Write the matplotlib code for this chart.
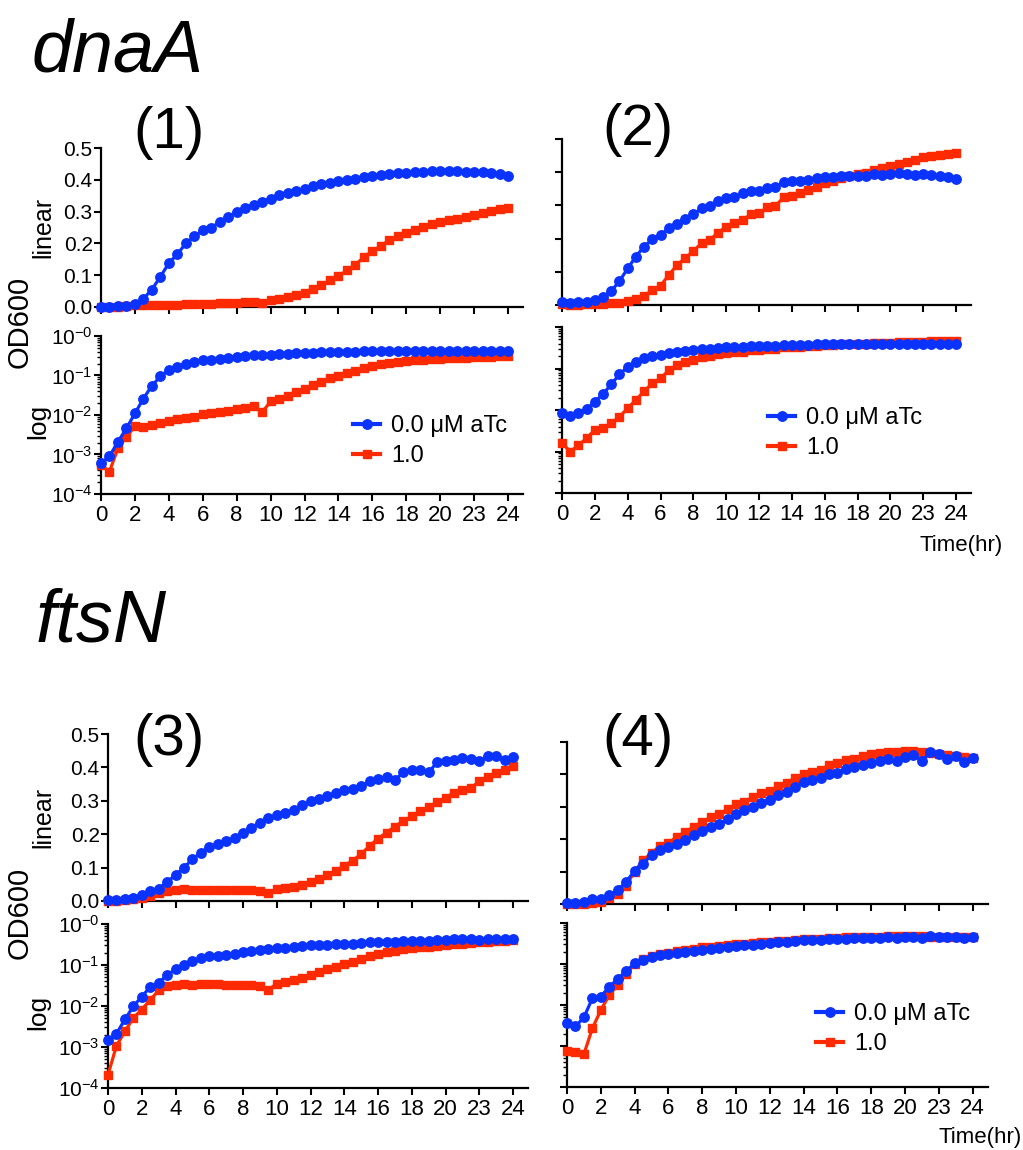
"""dnaA / ftsN growth curves — OD600 on linear and log axes, 4 panels, 0 vs 1.0 uM aTc.

Each panel is a pair of stacked axes (linear on top, log below) sharing the
same time grid (0-24 h, every 30 min). Geometry is given in pixels of the
1023x1150 target and converted to figure fractions.
"""

import matplotlib

matplotlib.use("Agg")
import matplotlib.pyplot as plt
import numpy as np
from matplotlib.lines import Line2D
from matplotlib.ticker import FixedLocator, FuncFormatter, LogLocator, NullFormatter

W, H, DPI = 1023, 1150, 100
BLUE = "#0a33ff"
RED = "#ff2a00"
FONT = ["Liberation Sans", "DejaVu Sans"]

# --- data --------------------------------------------------------------------

TIME_HR = [0.0, 0.5, 1.0, 1.5, 2.0, 2.5, 3.0, 3.5, 4.0, 4.5, 5.0, 5.5, 6.0, 6.5,
           7.0, 7.5, 8.0, 8.5, 9.0, 9.5, 10.0, 10.5, 11.0, 11.5, 12.0, 12.5,
           13.0, 13.5, 14.0, 14.5, 15.0, 15.5, 16.0, 16.5, 17.0, 17.5, 18.0,
           18.5, 19.0, 19.5, 20.0, 20.5, 21.0, 21.5, 22.0, 22.5, 23.0, 23.5, 24.0]
XTICKS = [0, 2, 4, 6, 8, 10, 12, 14, 16, 18, 20, 22, 24]
XTICK_LABELS = ["0", "2", "4", "6", "8", "10", "12", "14", "16", "18", "20", "23", "24"]
LIN_YTICKS = [0.0, 0.1, 0.2, 0.3, 0.4, 0.5]
LIN_YTICK_LABELS = ["0.0", "0.1", "0.2", "0.3", "0.4", "0.5"]
LOG_YTICKS = [1e-4, 1e-3, 1e-2, 1e-1, 1.0]
LEGEND_LABELS = ["0.0 \u03bcM aTc", "1.0"]
GENES = ["dnaA", "ftsN"]
PANEL_LABELS = ["(1)", "(2)", "(3)", "(4)"]

# (1) dnaA
P1_ATC0 = [6e-4, 9e-4, 2.1e-3, 4.6e-3, 0.011, 0.026, 0.055, 0.095, 0.138, 0.166,
           0.200, 0.222, 0.241, 0.250, 0.267, 0.283, 0.299, 0.312, 0.322, 0.330,
           0.340, 0.351, 0.358, 0.365, 0.372, 0.379, 0.386, 0.391, 0.396, 0.400,
           0.404, 0.408, 0.412, 0.415, 0.418, 0.420, 0.422, 0.423, 0.424, 0.427,
           0.428, 0.427, 0.427, 0.425, 0.425, 0.424, 0.422, 0.417, 0.411]
P1_ATC1 = [5.5e-4, 3.7e-4, 1.45e-3, 2.8e-3, 5.2e-3, 5.0e-3, 5.6e-3, 6.4e-3, 7.2e-3,
           7.8e-3, 8.6e-3, 9.1e-3, 0.0104, 0.0110, 0.0117, 0.0126, 0.0139, 0.0153,
           0.0170, 0.0117, 0.022, 0.025, 0.031, 0.039, 0.045, 0.058, 0.070, 0.084,
           0.097, 0.115, 0.133, 0.157, 0.176, 0.192, 0.210, 0.222, 0.234, 0.243,
           0.252, 0.260, 0.267, 0.273, 0.278, 0.283, 0.290, 0.297, 0.302, 0.307, 0.311]
# (2) dnaA
P2_ATC0 = [8.3e-3, 7.2e-3, 8.6e-3, 0.0104, 0.016, 0.024, 0.042, 0.072, 0.110, 0.146,
           0.176, 0.198, 0.211, 0.231, 0.244, 0.259, 0.273, 0.291, 0.298, 0.314,
           0.323, 0.326, 0.336, 0.344, 0.344, 0.353, 0.356, 0.370, 0.373, 0.375,
           0.377, 0.384, 0.387, 0.387, 0.389, 0.389, 0.389, 0.390, 0.395, 0.392,
           0.395, 0.397, 0.395, 0.393, 0.395, 0.392, 0.389, 0.385, 0.379]
P2_ATC1 = [1.6e-3, 1.0e-3, 1.4e-3, 2.1e-3, 3.3e-3, 3.6e-3, 4.8e-3, 6.9e-3, 0.011,
           0.0175, 0.028, 0.044, 0.058, 0.090, 0.120, 0.141, 0.163, 0.186, 0.196,
           0.218, 0.236, 0.246, 0.256, 0.273, 0.276, 0.294, 0.299, 0.324, 0.329,
           0.336, 0.346, 0.356, 0.366, 0.375, 0.382, 0.389, 0.395, 0.399, 0.407,
           0.412, 0.419, 0.425, 0.430, 0.437, 0.445, 0.449, 0.452, 0.454, 0.457]
# (3) ftsN
P3_ATC0 = [1.5e-3, 2.1e-3, 4.7e-3, 9.8e-3, 0.017, 0.029, 0.037, 0.057, 0.078, 0.100,
           0.125, 0.145, 0.162, 0.170, 0.180, 0.190, 0.205, 0.220, 0.235, 0.248,
           0.256, 0.264, 0.271, 0.286, 0.299, 0.306, 0.314, 0.324, 0.332, 0.334,
           0.344, 0.358, 0.365, 0.371, 0.363, 0.385, 0.393, 0.393, 0.385, 0.416,
           0.418, 0.423, 0.428, 0.425, 0.418, 0.433, 0.435, 0.423, 0.431]
P3_ATC1 = [2.1e-4, 1.07e-3, 2.4e-3, 5.1e-3, 8.2e-3, 0.014, 0.024, 0.031, 0.033,
           0.035, 0.033, 0.034, 0.034, 0.034, 0.033, 0.032, 0.032, 0.032, 0.031,
           0.025, 0.035, 0.039, 0.042, 0.049, 0.058, 0.066, 0.078, 0.091, 0.106,
           0.121, 0.141, 0.165, 0.187, 0.205, 0.223, 0.240, 0.254, 0.269, 0.282,
           0.296, 0.309, 0.324, 0.332, 0.339, 0.358, 0.371, 0.383, 0.393, 0.403]
# (4) ftsN
P4_ATC0 = [3.6e-3, 3.0e-3, 5.0e-3, 0.0145, 0.016, 0.028, 0.043, 0.068, 0.103, 0.125,
           0.151, 0.168, 0.175, 0.185, 0.197, 0.212, 0.225, 0.238, 0.246, 0.261,
           0.279, 0.290, 0.298, 0.312, 0.322, 0.336, 0.346, 0.361, 0.377, 0.382,
           0.390, 0.400, 0.405, 0.418, 0.423, 0.428, 0.435, 0.441, 0.449, 0.440,
           0.454, 0.459, 0.441, 0.469, 0.462, 0.446, 0.456, 0.438, 0.451]
P4_ATC1 = [7.5e-4, 7.0e-4, 6.3e-4, 2.7e-3, 7.5e-3, 0.0175, 0.031, 0.057, 0.100,
           0.136, 0.156, 0.180, 0.189, 0.207, 0.223, 0.238, 0.254, 0.267, 0.279,
           0.292, 0.308, 0.315, 0.331, 0.343, 0.348, 0.363, 0.374, 0.390, 0.402,
           0.408, 0.415, 0.428, 0.435, 0.443, 0.449, 0.457, 0.462, 0.466, 0.469,
           0.469, 0.472, 0.472, 0.469, 0.466, 0.463, 0.459, 0.456, 0.454, 0.451]

SERIES = [(P1_ATC0, P1_ATC1), (P2_ATC0, P2_ATC1), (P3_ATC0, P3_ATC1), (P4_ATC0, P4_ATC1)]

# --- layout (pixels of the target) -------------------------------------------
# left, px per hour, linear top/bottom, log top/bottom, show y labels,
# panel label (x, y centre), legend top-left (x, y) or None, Time(hr) (right, y) or None
PANELS = [
    dict(left=101, pxh=16.96, lin=(148, 307), log=(336, 494), ylab=True,
         tag=(133, 133), legend=(353, 415), time=None),
    dict(left=562, pxh=16.42, lin=(139, 305), log=(327, 493), ylab=False,
         tag=(602, 130), legend=(768, 407), time=(1003, 546)),
    dict(left=108, pxh=16.88, lin=(734, 901), log=(924, 1088), ylab=True,
         tag=(133, 740), legend=None, time=None),
    dict(left=567, pxh=16.90, lin=(742, 904), log=(923, 1087), ylab=False,
         tag=(602, 740), legend=(816, 1003), time=(1022, 1137)),
]
X_MAX = 24.9


def px_axes(fig, left, top, right, bottom):
    return fig.add_axes([left / W, 1 - bottom / H, (right - left) / W, (bottom - top) / H])


def style_axes(ax, show_y, show_x):
    for side in ("top", "right"):
        ax.spines[side].set_visible(False)
    for side in ("left", "bottom"):
        ax.spines[side].set_linewidth(1.6)
    ax.tick_params(which="major", direction="out", length=5, width=1.5,
                   labelsize=15, pad=1, labelleft=show_y, labelbottom=show_x)
    ax.tick_params(which="minor", direction="out", length=3, width=1.0)
    ax.tick_params(axis="x", pad=3, labelsize=16)
    ax.set_xlim(0, X_MAX)
    ax.set_xticks(XTICKS)
    ax.set_xticklabels(XTICK_LABELS)


def log_label(v, _pos):
    return rf"$10^{{-{abs(int(round(np.log10(v))))}}}$"


def draw_series(ax, atc0, atc1):
    ax.plot(TIME_HR, atc1, color=RED, marker="s", ms=5.8, lw=2.3, clip_on=False, zorder=3)
    ax.plot(TIME_HR, atc0, color=BLUE, marker="o", ms=6.8, lw=2.3, clip_on=False, zorder=4)


def draw_panel(fig, spec, atc0, atc1, label):
    right = spec["left"] + spec["pxh"] * X_MAX
    lin = px_axes(fig, spec["left"], spec["lin"][0], right, spec["lin"][1])
    log = px_axes(fig, spec["left"], spec["log"][0], right, spec["log"][1])

    draw_series(lin, atc0, atc1)
    style_axes(lin, spec["ylab"], False)
    lin.set_ylim(0, 0.5)
    lin.set_yticks(LIN_YTICKS)
    lin.set_yticklabels(LIN_YTICK_LABELS)

    draw_series(log, atc0, atc1)
    log.set_yscale("log")
    style_axes(log, spec["ylab"], True)
    log.set_ylim(1e-4, 1.0)
    log.yaxis.set_major_locator(FixedLocator(LOG_YTICKS))
    log.yaxis.set_major_formatter(FuncFormatter(log_label))
    log.yaxis.set_minor_locator(LogLocator(base=10, subs=range(2, 10), numticks=20))
    log.yaxis.set_minor_formatter(NullFormatter())

    tx, ty = spec["tag"]
    fig.text(tx / W, 1 - ty / H, label, fontsize=42, ha="left", va="center")

    if spec["legend"] is not None:
        handles = [Line2D([], [], color=BLUE, marker="o", ms=6.8, lw=3),
                   Line2D([], [], color=RED, marker="s", ms=5.8, lw=3)]
        lx, ly = spec["legend"]
        log.legend(handles, LEGEND_LABELS, loc="upper left",
                   bbox_to_anchor=(lx / W, 1 - ly / H), bbox_transform=fig.transFigure,
                   frameon=False, fontsize=17, borderpad=0, borderaxespad=0,
                   handlelength=1.15, handletextpad=0.45, labelspacing=0.35)
    if spec["time"] is not None:
        rx, ry = spec["time"]
        fig.text(rx / W, 1 - ry / H, "Time(hr)", fontsize=16, ha="right", va="center")

    if spec["ylab"]:
        lt, lb = spec["lin"]
        gt, gb = spec["log"]
        fig.text(43 / W, 1 - (lt + lb) / 2 / H, "linear", fontsize=18,
                 rotation=90, ha="center", va="center")
        fig.text(38 / W, 1 - (gt + gb) / 2 / H - 6 / H, "log", fontsize=19,
                 rotation=90, ha="center", va="center")
        fig.text(20 / W, 1 - (lb + gt) / 2 / H, "OD600", fontsize=21,
                 rotation=90, ha="center", va="center")


def main() -> None:
    plt.rcParams["font.family"] = FONT
    plt.rcParams["mathtext.fontset"] = "custom"
    plt.rcParams["mathtext.rm"] = "Liberation Sans"
    plt.rcParams["mathtext.it"] = "Liberation Sans:italic"

    fig = plt.figure(figsize=(W / DPI, H / DPI), dpi=DPI)
    for spec, (atc0, atc1), label in zip(PANELS, SERIES, PANEL_LABELS):
        draw_panel(fig, spec, atc0, atc1, label)

    fig.text(32 / W, 1 - 72 / H, GENES[0], fontsize=53, style="italic",
             ha="left", va="baseline")
    fig.text(36 / W, 1 - 642 / H, GENES[1], fontsize=53, style="italic",
             ha="left", va="baseline")

    fig.savefig("out.png", dpi=DPI)


if __name__ == "__main__":
    main()
